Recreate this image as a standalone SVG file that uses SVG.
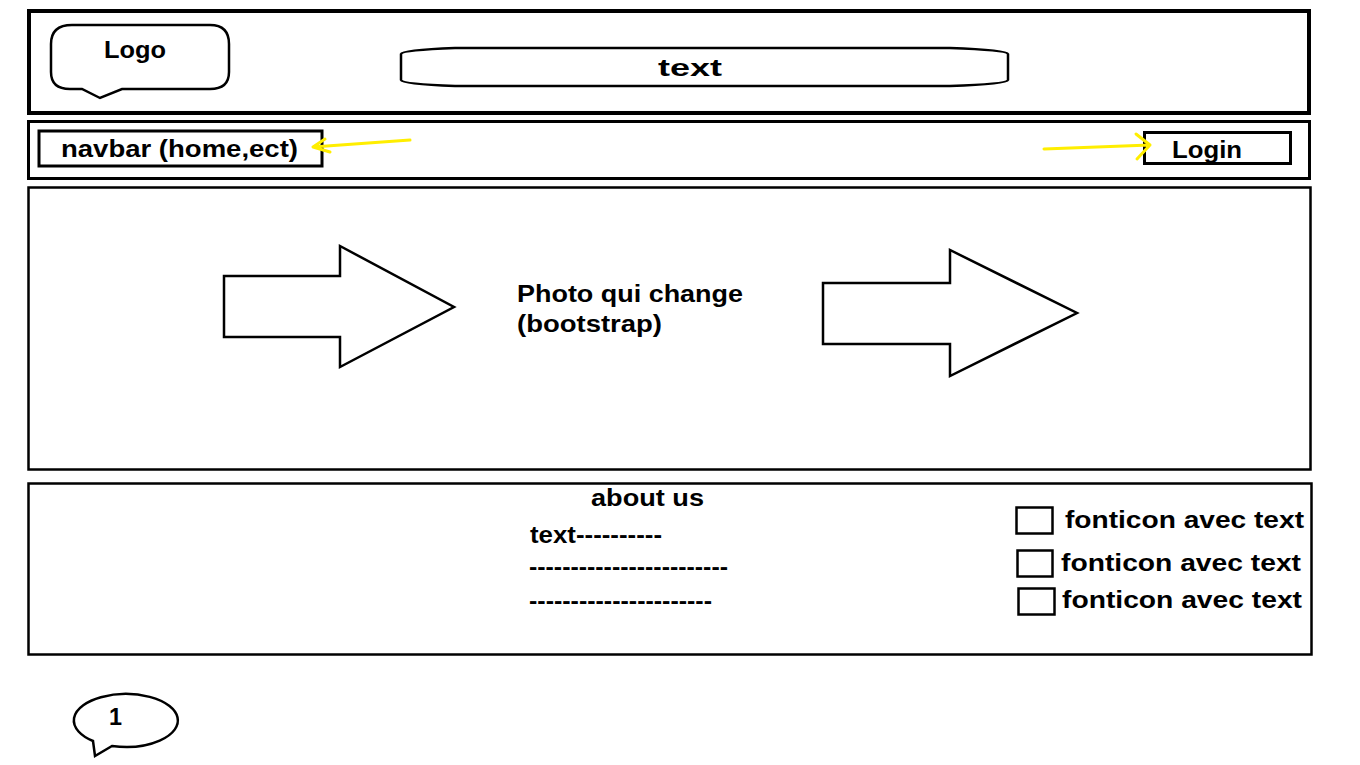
<svg xmlns="http://www.w3.org/2000/svg" width="1360" height="765" viewBox="0 0 1360 765">
<style>
.b{fill:none;stroke:#000;stroke-linejoin:miter}
.t{font-family:"Liberation Sans",Arial,sans-serif;font-weight:bold;font-size:23px;fill:#000}
.y{fill:none;stroke:#ffee00;stroke-width:3;stroke-linecap:round;stroke-linejoin:round}
</style>
<rect width="1360" height="765" fill="#fff"/>
<g id="header">
<rect class="b" x="29" y="11" width="1280" height="102" stroke-width="4"/>
</g>
<g id="logo">
<path class="b" stroke-width="2.5" d="M72,25 H210 Q229,25 229,44 V72 Q229,89 210,89 H122 L100,98 L82,89 H70 Q51,89 51,72 V44 Q51,25 72,25 Z"/>
<text class="t" x="104" y="58" textLength="62" lengthAdjust="spacingAndGlyphs">Logo</text>
</g>
<g id="textbar">
<path class="b" stroke-width="2.5" d="M455,48 H950 Q1007,50 1008,54 V80 Q1007,84 950,86 H455 Q402,84 401,80 V54 Q402,50 455,48 Z"/>
<text class="t" x="658" y="76" textLength="64" lengthAdjust="spacingAndGlyphs">text</text>
</g>
<g id="navbarStrip">
<rect class="b" x="28.5" y="121.5" width="1281" height="57" stroke-width="3"/>
</g>
<g id="navbar">
<rect class="b" x="39" y="131" width="283" height="35" stroke-width="3"/>
<text class="t" x="61" y="157" textLength="237" lengthAdjust="spacingAndGlyphs">navbar (home,ect)</text>
</g>
<g id="login">
<rect class="b" x="1144.5" y="132.5" width="146" height="31" stroke-width="3"/>
<text class="t" x="1172" y="158" textLength="70" lengthAdjust="spacingAndGlyphs">Login</text>
</g>
<g id="carousel">
<rect class="b" x="28.5" y="187.5" width="1282" height="282" stroke-width="2.5"/>
<text class="t" x="517" y="302" textLength="226" lengthAdjust="spacingAndGlyphs">Photo qui change</text>
<text class="t" x="517" y="332" textLength="145" lengthAdjust="spacingAndGlyphs">(bootstrap)</text>
</g>
<g id="arrowLeft">
<path class="b" stroke-width="2.5" d="M224,276 H340 V246 L454,307 L340,367 V337 H224 Z"/>
</g>
<g id="arrowRight">
<path class="b" stroke-width="2.5" d="M823,283 H950 V250 L1077,313 L950,376 V344 H823 Z"/>
</g>
<g id="footer">
<rect class="b" x="28.5" y="483.5" width="1283" height="171" stroke-width="2.5"/>
<text class="t" x="591" y="506" textLength="113" lengthAdjust="spacingAndGlyphs">about us</text>
<text class="t" x="530" y="543" textLength="132" lengthAdjust="spacingAndGlyphs">text----------</text>
<text class="t" x="529" y="575" textLength="199" lengthAdjust="spacingAndGlyphs">------------------------</text>
<text class="t" x="529" y="609" textLength="183" lengthAdjust="spacingAndGlyphs">----------------------</text>
</g>
<g id="fonticon1">
<rect class="b" x="1016.5" y="507.5" width="36" height="26" stroke-width="2.5"/>
<text class="t" x="1065" y="528" textLength="239" lengthAdjust="spacingAndGlyphs">fonticon avec text</text>
</g>
<g id="fonticon2">
<rect class="b" x="1017.5" y="550.5" width="35" height="26" stroke-width="2.5"/>
<text class="t" x="1061" y="571" textLength="240" lengthAdjust="spacingAndGlyphs">fonticon avec text</text>
</g>
<g id="fonticon3">
<rect class="b" x="1018.5" y="588.5" width="36" height="26" stroke-width="2.5"/>
<text class="t" x="1062" y="608" textLength="240" lengthAdjust="spacingAndGlyphs">fonticon avec text</text>
</g>
<g id="bubble1">
<path class="b" stroke-width="2.5" d="M93,741 A52,26.5 0 1 1 112,746 L95,756 Z"/>
<text class="t" x="109" y="725" textLength="13" lengthAdjust="spacingAndGlyphs">1</text>
</g>
<g id="connectors">
<path class="y" d="M410,140 L313,147 M325,139 L313,147 L330,152"/>
<path class="y" d="M1044,149 L1150,145 M1136,134 L1150,145 L1137,159"/>
</g>
</svg>
